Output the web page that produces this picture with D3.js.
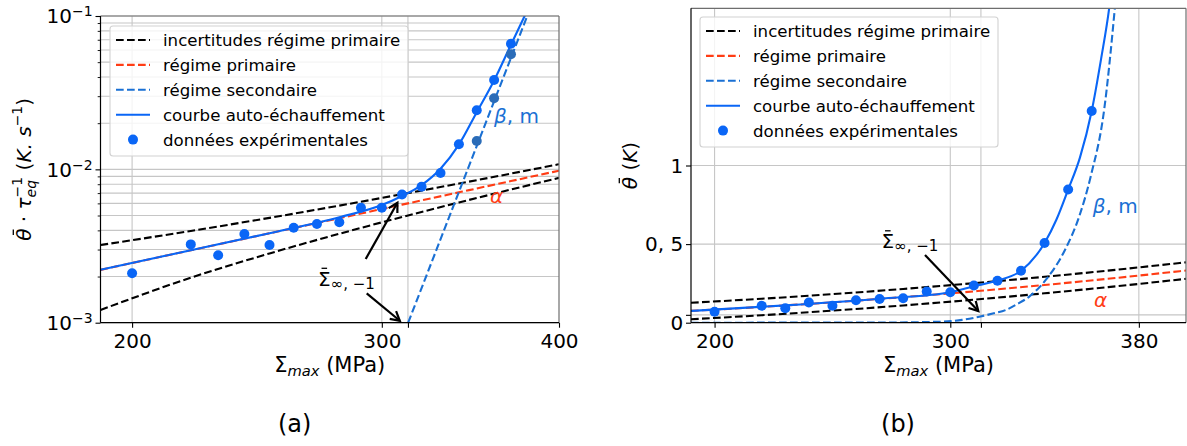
<!DOCTYPE html>
<html><head><meta charset="utf-8">
<script src="https://cdn.jsdelivr.net/npm/d3@7"></script>
<style>
body{margin:0;background:#fff}
svg{display:block}
text{font-family:"DejaVu Sans",sans-serif}
</style>
</head><body>
<svg id="c" width="1187" height="446"></svg>
<script>
// ---------------- data ----------------
// experimental points
const sigmaExp = [200,220,230,240,250,260,270,280,290,300,310,320,330,340,350,360,370];
const rateExp  = [0.00210,0.00324,0.00275,0.00379,0.00321,0.00416,0.00440,0.00452,0.00562,0.00562,0.00686,0.00771,0.00947,0.01457,0.02427,0.03825,0.0660];
const sigmaSecPts = [350,360,370];
const rateSecPts  = [0.0153,0.0291,0.0563];
const sigmaTemp = [200,220,230,240,250,260,270,280,290,300,310,320,330,340,350,360];
const tempExp   = [0.070,0.108,0.092,0.128,0.108,0.143,0.151,0.156,0.198,0.194,0.237,0.267,0.330,0.507,0.847,1.347];

// model curves
const sigmaLin = [190,220,250,280,310,340,370,400];
const ratePrim = [0.002211,0.002965,0.003828,0.004802,0.005886,0.007081,0.008385,0.0098];
const rateUp   = [0.003211,0.003965,0.004828,0.005802,0.006886,0.008081,0.009385,0.0108];
const rateLow  = [0.001211,0.001965,0.002828,0.003802,0.004886,0.006081,0.007385,0.0088];
const tempPrim = [0.0749,0.1004,0.1297,0.1627,0.1994,0.2399,0.2841,0.332];
const tempUp   = [0.1269,0.1524,0.1817,0.2147,0.2514,0.2919,0.3361,0.384];
const tempLow  = [0.0219,0.0474,0.0767,0.1097,0.1464,0.1869,0.2311,0.279];

const sigmaSecRate = [313.1, 379.9];
const rateSec      = [0.001, 0.1];
const sigmaCurveRate = [190,220,250,280,300,310,320,330,340,350,360,370,378,381];
const rateCurve      = [0.002212,0.002968,0.003835,0.004870,0.00585,0.00670,0.00790,0.0101,0.0145,0.0236,0.0380,0.0650,0.0985,0.115];
const sigmaCurveTemp = [190,230,270,300,310,320,330,340,345,350,355,360,364,367.4,369];
const tempCurve      = [0.0750,0.1100,0.1525,0.194,0.232,0.268,0.330,0.507,0.655,0.847,1.05,1.347,1.68,2.0,2.2];
const sigmaSecTemp = [190,270,295,305,312.3,318,323.6,328,333.5,340.5,348.7,354.7,359.6,365.3,369.8,371];
const tempSec      = [0,0.001,0.006,0.018,0.038,0.058,0.081,0.115,0.166,0.272,0.464,0.676,0.932,1.357,2.0,2.2];

const sigmaEnd = 313; // Σ∞,-1

// ticks
const xTicksL = [200,300,313,400];
const xLabelsL = ["200","300","","400"];
const yMajorL = [1e-3,1e-2,1e-1];
const yExpL = ["−3","−2","−1"];
const yMinorL = [2e-3,3e-3,4e-3,5e-3,6e-3,7e-3,8e-3,9e-3,2e-2,3e-2,4e-2,5e-2,6e-2,7e-2,8e-2,9e-2];
const xTicksR = [200,300,313,380];
const xLabelsR = ["200","300","","380"];
const yTicksR = [0,0.05,0.5,1];
const yLabelsR = ["0","","0, 5","1"];

const legendLabels = ["incertitudes régime primaire","régime primaire","régime secondaire","courbe auto-échauffement","données expérimentales"];

// ---------------- style ----------------
const C = {
  black:"#000000", red:"#ff3c14", blueDash:"#1a70d4", blue:"#0a66f6", sec:"#2b6cb8",
  grid:"#c6c6c6", spine2:"#6e6e6e"
};
const DASH = "7.7 3.3";
const LW = 2.1;
const svg = d3.select("#c");

function mathText(parent, pieces, x, y, anchor="start", rotate=0, fill="#000") {
  const outer = parent.append("g").attr("transform", `translate(${x},${y}) rotate(${rotate})`);
  const g = outer.append("g");
  let cx = 0, hold = 0;
  pieces.forEach(p => {
    const fs = p.fs || 20;
    const t = g.append("text").attr("x", cx).attr("y", p.dy || 0)
      .attr("font-size", fs)
      .attr("font-style", p.it ? "italic" : "normal")
      .attr("fill", p.fill || fill)
      .style("white-space", "pre")
      .text(p.t);
    const w = t.node().getComputedTextLength();
    if (p.bar) {
      // overbar (mathtext \bar)
      const top = (p.dy || 0) - fs * 0.86;
      const sk = p.it ? fs * 0.12 : 0;
      g.append("line").attr("x1", cx + w*0.28 + sk).attr("x2", cx + w*0.72 + sk)
        .attr("y1", top).attr("y2", top).attr("stroke", p.fill || fill).attr("stroke-width", 1.3);
    }
    if (p.hold) { hold = w; } else { cx += Math.max(w, hold); hold = 0; }
  });
  const shift = anchor === "middle" ? -cx/2 : anchor === "end" ? -cx : 0;
  g.attr("transform", `translate(${shift},0)`);
  return outer;
}

function arrow(g, x1, y1, x2, y2) {
  const dx = x2-x1, dy = y2-y1, L = Math.hypot(dx,dy);
  const ux = dx/L, uy = dy/L, nx = -uy, ny = ux;
  const hl = 9, hw = 5;
  g.append("line").attr("x1",x1).attr("y1",y1).attr("x2",x2).attr("y2",y2)
    .attr("stroke","#000").attr("stroke-width",2.2);
  g.append("path")
    .attr("d", `M${x2-ux*hl+nx*hw},${y2-uy*hl+ny*hw}L${x2},${y2}L${x2-ux*hl-nx*hw},${y2-uy*hl-ny*hw}`)
    .attr("fill","none").attr("stroke","#000").attr("stroke-width",2.2).attr("stroke-linejoin","miter");
}

function zip(a,b){ return a.map((v,i)=>[v,b[i]]); }

function drawPanel(P) {
  const {box, x, y, id} = P;
  const g = svg.append("g");
  svg.append("clipPath").attr("id", id).append("rect")
    .attr("x", box.l).attr("y", box.t).attr("width", box.r-box.l).attr("height", box.b-box.t);

  // grid
  const grid = g.append("g").attr("stroke", C.grid).attr("stroke-width", 1.1);
  P.gridX.forEach(v => grid.append("line").attr("x1", x(v)).attr("x2", x(v)).attr("y1", box.t).attr("y2", box.b));
  P.gridY.forEach(v => grid.append("line").attr("y1", y(v)).attr("y2", y(v)).attr("x1", box.l).attr("x2", box.r));

  // curves
  const plot = g.append("g").attr("clip-path", `url(#${id})`);
  const line = d3.line().x(d => x(d[0])).y(d => y(d[1])).curve(d3.curveMonotoneX);
  const add = (pts, color, dashed) => plot.append("path").attr("d", line(pts))
    .attr("fill","none").attr("stroke", color).attr("stroke-width", LW)
    .attr("stroke-dasharray", dashed ? DASH : null);
  P.curves.forEach(c => add(c.pts, c.color, c.dashed));
  P.points.forEach(s => {
    plot.append("g").selectAll("circle").data(s.pts).join("circle")
      .attr("cx", d => x(d[0])).attr("cy", d => y(d[1])).attr("r", 5).attr("fill", s.color);
  });

  // axes
  const xa = g.append("g").attr("transform", `translate(0,${box.b})`)
    .call(d3.axisBottom(x).tickValues(P.xTicks).tickSize(5).tickPadding(6.4)
      .tickFormat((d,i) => P.xLabels[i]));
  xa.select(".domain").remove();
  xa.selectAll("line").attr("stroke-width", 1.1);
  xa.selectAll("text").attr("font-size", 20).attr("font-family", '"DejaVu Sans", sans-serif').attr("fill","#000");

  const ya = g.append("g").attr("transform", `translate(${box.l},0)`)
    .call(d3.axisLeft(y).tickValues(P.yTicks).tickSize(5).tickFormat(() => ""));
  ya.select(".domain").remove();
  ya.selectAll("line").attr("stroke-width", 1.1);
  if (P.yMinor) {
    const ym = g.append("g").attr("transform", `translate(${box.l},0)`)
      .call(d3.axisLeft(y).tickValues(P.yMinor).tickSize(2.8).tickFormat(() => ""));
    ym.select(".domain").remove();
    ym.selectAll("line").attr("stroke-width", 0.9);
  }
  P.yTicks.forEach((v,i) => {
    const pieces = P.yLabel(i);
    if (pieces) mathText(g, pieces, box.l - 7.8, y(v) + 7.3, "end");
  });

  // spines
  g.append("line").attr("x1", box.l).attr("x2", box.r).attr("y1", box.t).attr("y2", box.t).attr("stroke", C.spine2).attr("stroke-width", 1.2);
  g.append("line").attr("x1", box.r).attr("x2", box.r).attr("y1", box.t).attr("y2", box.b).attr("stroke", C.spine2).attr("stroke-width", 1.2);
  g.append("line").attr("x1", box.l).attr("x2", box.r).attr("y1", box.b).attr("y2", box.b).attr("stroke", "#000").attr("stroke-width", 1.2);
  g.append("line").attr("x1", box.l).attr("x2", box.l).attr("y1", box.t).attr("y2", box.b).attr("stroke", "#000").attr("stroke-width", 1.2);

  // x label
  mathText(g, [{t:"Σ", fs:21},{t:"max", fs:14.7, it:true, dy:4.5},{t:" (MPa)", fs:21}], (box.l+box.r)/2, 371.5, "middle");

  // legend
  const lg = g.append("g");
  const Lb = P.legend;
  lg.append("rect").attr("x", Lb.x).attr("y", Lb.y).attr("width", 298).attr("height", 130)
    .attr("rx", 3).attr("fill", "#fff").attr("fill-opacity", 0.8)
    .attr("stroke", "#d2d2d2").attr("stroke-width", 1.1);
  const handles = [
    {color:C.black, dashed:true}, {color:C.red, dashed:true}, {color:C.blueDash, dashed:true},
    {color:C.blue, dashed:false}, {color:C.blue, dot:true}
  ];
  handles.forEach((h,i) => {
    const cy = Lb.y + 14 + i*24.9;
    if (h.dot) {
      lg.append("circle").attr("cx", Lb.x+23).attr("cy", cy).attr("r", 5).attr("fill", h.color);
    } else {
      lg.append("line").attr("x1", Lb.x+6).attr("x2", Lb.x+40).attr("y1", cy).attr("y2", cy)
        .attr("stroke", h.color).attr("stroke-width", LW).attr("stroke-dasharray", h.dashed ? DASH : null);
    }
    lg.append("text").attr("x", Lb.x+53).attr("y", cy+6).attr("font-size", 16.6).attr("fill","#000")
      .text(legendLabels[i]);
  });
  return g;
}

// ---------------- left panel (log-log) ----------------
const boxL = {l:100.5, r:559, t:16, b:322.7};
const xL = d3.scaleLog().domain([190,400]).range([boxL.l, boxL.r]);
const yL = d3.scaleLog().domain([1e-3,1e-1]).range([boxL.b, boxL.t]);
const gL = drawPanel({
  id:"clipL", box:boxL, x:xL, y:yL,
  gridX:[200,300,sigmaEnd], gridY:yMajorL.concat(yMinorL),
  xTicks:xTicksL, xLabels:xLabelsL, yTicks:yMajorL, yMinor:yMinorL,
  yLabel:i => [{t:"10"},{t:yExpL[i], fs:14, dy:-7}],
  curves:[
    {pts:zip(sigmaLin, rateUp), color:C.black, dashed:true},
    {pts:zip(sigmaLin, rateLow), color:C.black, dashed:true},
    {pts:zip(sigmaLin, ratePrim), color:C.red, dashed:true},
    {pts:zip(sigmaSecRate, rateSec), color:C.blueDash, dashed:true},
    {pts:zip(sigmaCurveRate, rateCurve), color:C.blue, dashed:false}
  ],
  points:[
    {pts:zip(sigmaExp, rateExp), color:C.blue},
    {pts:zip(sigmaSecPts, rateSecPts), color:C.sec}
  ],
  legend:{x:110, y:26}
});
// y label
mathText(gL, [{t:"θ", it:true, bar:true},{t:" · "},{t:"τ", it:true},
  {t:"−1", fs:14, dy:-9, hold:true},{t:"eq", fs:14, it:true, dy:5},
  {t:" ("},{t:"K. s", it:true},{t:"−1", fs:14, dy:-9},{t:")"}],
  30.5, (boxL.t+boxL.b)/2, "middle", -90);
// annotations
mathText(gL, [{t:"Σ", fs:20, bar:true},{t:"∞, −1", fs:15, dy:3}], 318, 285.5, "start");
arrow(gL, 365.7, 259, xL(307.7), yL(0.00606));
arrow(gL, 366.7, 293.3, xL(308.9), yL(0.00103));
mathText(gL, [{t:"β", it:true, fill:C.blueDash},{t:", m", fill:C.blueDash}], 494, 122.7, "start");
mathText(gL, [{t:"α", it:true, fill:C.red}], 490, 203, "start");

// ---------------- right panel (linear) ----------------
const boxR = {l:691, r:1186, t:8.3, b:322.7};
const xR = d3.scaleLinear().domain([190,400]).range([boxR.l, boxR.r]);
const yR = d3.scaleLinear().domain([0,2]).range([boxR.b, boxR.t]);
const gR = drawPanel({
  id:"clipR", box:boxR, x:xR, y:yR,
  gridX:[200,300,sigmaEnd,380], gridY:[0.05,0.5,1],
  xTicks:xTicksR, xLabels:xLabelsR, yTicks:yTicksR,
  yLabel:i => yLabelsR[i] ? [{t:yLabelsR[i]}] : null,
  curves:[
    {pts:zip(sigmaLin, tempUp), color:C.black, dashed:true},
    {pts:zip(sigmaLin, tempLow), color:C.black, dashed:true},
    {pts:zip(sigmaLin, tempPrim), color:C.red, dashed:true},
    {pts:zip(sigmaSecTemp, tempSec), color:C.blueDash, dashed:true},
    {pts:zip(sigmaCurveTemp, tempCurve), color:C.blue, dashed:false}
  ],
  points:[{pts:zip(sigmaTemp, tempExp), color:C.blue}],
  legend:{x:700, y:17}
});
mathText(gR, [{t:"θ", it:true, bar:true},{t:" ("},{t:"K", it:true},{t:")"}],
  636.5, (boxR.t+boxR.b)/2, "middle", -90);
mathText(gR, [{t:"Σ", fs:20, bar:true},{t:"∞, −1", fs:15, dy:3}], 881.5, 248, "start");
arrow(gR, 925, 255, xR(311.9), yR(0.0744));
mathText(gR, [{t:"β", it:true, fill:C.blueDash},{t:", m", fill:C.blueDash}], 1092.7, 213, "start");
mathText(gR, [{t:"α", it:true, fill:C.red}], 1094, 306.5, "start");

// sub-captions
svg.append("text").attr("x", 294.6).attr("y", 432).attr("text-anchor","middle")
  .attr("font-family", '"DejaVu Serif", serif').attr("font-size", 24).text("(a)");
svg.append("text").attr("x", 898).attr("y", 432).attr("text-anchor","middle")
  .attr("font-family", '"DejaVu Serif", serif').attr("font-size", 24).text("(b)");
</script>
</body></html>
